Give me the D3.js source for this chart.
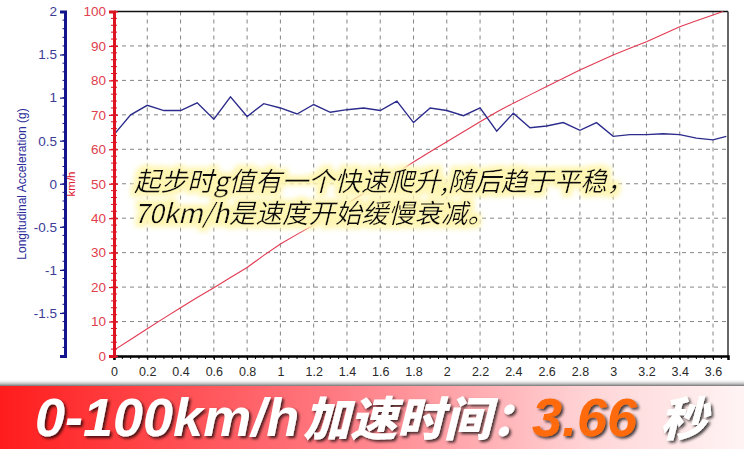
<!DOCTYPE html>
<html><head><meta charset="utf-8">
<script src="https://cdn.jsdelivr.net/npm/d3@7/dist/d3.min.js"></script>
<style>html,body{margin:0;padding:0;background:#fff;overflow:hidden}svg{display:block}</style>
</head><body>
<svg id="c" width="744" height="449"></svg>
<script>
// ---- data ----
const timeS = [0,0.1,0.2,0.3,0.4,0.5,0.6,0.7,0.8,0.9,1.0,1.1,1.2,1.3,1.4,1.5,1.6,1.7,1.8,1.9,2.0,2.1,2.2,2.3,2.4,2.5,2.6,2.7,2.8,2.9,3.0,3.1,3.2,3.3,3.4,3.5,3.6,3.68];
const accelG = [0.57,0.80,0.91,0.85,0.85,0.94,0.75,1.01,0.78,0.93,0.88,0.81,0.92,0.83,0.86,0.88,0.85,0.96,0.71,0.88,0.85,0.79,0.88,0.61,0.82,0.65,0.67,0.71,0.62,0.71,0.55,0.57,0.57,0.58,0.57,0.53,0.51,0.55];
const speedTime = [0,0.1,0.2,0.3,0.4,0.5,0.6,0.7,0.8,0.9,1.0,1.1,1.2,1.3,1.4,1.5,1.6,1.7,1.8,1.9,2.0,2.1,2.2,2.3,2.4,2.5,2.6,2.7,2.8,2.9,3.0,3.1,3.2,3.3,3.4,3.5,3.6,3.66];
const speedKmh = [1.7,4.8,7.9,11.0,14.0,17.0,19.8,22.8,25.7,29.2,32.5,35.3,38.0,41.0,44.2,47.2,50.2,53.2,56.3,59.3,62.2,65.1,68.0,70.8,73.4,75.8,78.2,80.6,83.0,85.2,87.4,89.3,91.2,93.4,95.6,97.3,99.0,100];
const xTicks = [0,0.2,0.4,0.6,0.8,1,1.2,1.4,1.6,1.8,2,2.2,2.4,2.6,2.8,3,3.2,3.4,3.6];
const speedTicks = [0,10,20,30,40,50,60,70,80,90,100];
const gTicks = [-1.5,-1,-0.5,0,0.5,1,1.5,2];
const noteLines = ["起步时g值有一个快速爬升,随后趋于平稳，","70km/h是速度开始缓慢衰减。"];
const bannerParts = ["0-100km/h","加速时间：","3.66","秒"];

const svg = d3.select("#c");
const L = 114, R = 728, T = 11.5, B = 356;
const x = d3.scaleLinear().domain([0,3.69]).range([L,R]);
const yS = d3.scaleLinear().domain([0,100]).range([B,T]);
const yG = d3.scaleLinear().domain([-2,2]).range([B,T]);

const defs = svg.append("defs");
const glow = defs.append("filter").attr("id","glow").attr("x","-5%").attr("y","-40%").attr("width","110%").attr("height","180%");
glow.append("feMorphology").attr("in","SourceAlpha").attr("operator","dilate").attr("radius",3.5).attr("result","d");
glow.append("feGaussianBlur").attr("in","d").attr("stdDeviation",2.5).attr("result","b");
glow.append("feFlood").attr("flood-color","#fff6b4").attr("result","f");
glow.append("feComposite").attr("in","f").attr("in2","b").attr("operator","in").attr("result","h");
const gm = glow.append("feMerge");
gm.append("feMergeNode").attr("in","h");
gm.append("feMergeNode").attr("in","SourceGraphic");
const sh = defs.append("filter").attr("id","shadow").attr("x","-5%").attr("y","-20%").attr("width","110%").attr("height","150%");
sh.append("feDropShadow").attr("dx",2).attr("dy",2).attr("stdDeviation",1.6).attr("flood-color","#000").attr("flood-opacity",0.75);
const grad = defs.append("linearGradient").attr("id","bg").attr("x1","0").attr("x2","1").attr("y1","0").attr("y2","0");
grad.append("stop").attr("offset","0").attr("stop-color","#ff1c1c");
grad.append("stop").attr("offset","0.45").attr("stop-color","#ff7a82");
grad.append("stop").attr("offset","0.8").attr("stop-color","#ffd6d8");
grad.append("stop").attr("offset","1").attr("stop-color","#fff4f4");
const shg = defs.append("linearGradient").attr("id","topsh").attr("x1","0").attr("x2","0").attr("y1","0").attr("y2","1");
shg.append("stop").attr("offset","0").attr("stop-color","#fff").attr("stop-opacity",0);
shg.append("stop").attr("offset","1").attr("stop-color","#333").attr("stop-opacity",0.9);

// grid
const grid = svg.append("g").attr("stroke","#858585").attr("stroke-width",1).attr("stroke-dasharray","4,4");
grid.selectAll("line.v").data(xTicks.filter(d=>d>0)).join("line")
  .attr("x1",d=>x(d)).attr("x2",d=>x(d)).attr("y1",T).attr("y2",B);
grid.selectAll("line.h").data(speedTicks.filter(d=>d>0&&d<100)).join("line")
  .attr("x1",L).attr("x2",R).attr("y1",d=>yS(d)).attr("y2",d=>yS(d));

// frame
svg.append("line").attr("x1",L).attr("x2",R).attr("y1",T).attr("y2",T).attr("stroke","#111").attr("stroke-width",1.5);
svg.append("line").attr("x1",R).attr("x2",R).attr("y1",T).attr("y2",B).attr("stroke","#333").attr("stroke-width",1.5);

// x axis
const xAx = d3.axisBottom(x).tickValues(xTicks).tickSize(4).tickFormat(d=>String(+d.toFixed(1)));
const gx = svg.append("g").attr("transform",`translate(0,${B})`).call(xAx);
gx.select(".domain").attr("stroke","#000").attr("stroke-width",2.5);
gx.selectAll(".tick line").attr("stroke","#000");
gx.selectAll(".tick text").attr("font-family","Liberation Sans, Arial, sans-serif").attr("font-size",12.5).attr("fill","#2a2a2a").attr("dy","1.05em");
const minorX = d3.range(0,3.69,0.05);
svg.append("g").selectAll("line").data(minorX).join("line")
  .attr("x1",d=>x(d)).attr("x2",d=>x(d)).attr("y1",B).attr("y2",B+3).attr("stroke","#000").attr("stroke-width",1);

// lines
svg.append("path").datum(speedTime.map((t,i)=>[t,speedKmh[i]]))
  .attr("fill","none").attr("stroke","#e23a52").attr("stroke-width",1.1)
  .attr("d",d3.line().x(d=>x(d[0])).y(d=>yS(d[1])));
svg.append("path").datum(timeS.map((t,i)=>[t,accelG[i]]))
  .attr("fill","none").attr("stroke","#2c2c8c").attr("stroke-width",1.4)
  .attr("d",d3.line().x(d=>x(d[0])).y(d=>yG(d[1])));

// speed axis (red)
const sAx = d3.axisLeft(yS).tickValues(speedTicks).tickSize(5).tickPadding(3);
const gs = svg.append("g").attr("transform",`translate(${L},0)`).call(sAx);
gs.select(".domain").attr("stroke","#dd1422").attr("stroke-width",3);
gs.selectAll(".tick line").attr("stroke","#dd1422").attr("x2",4).attr("x1",-5).attr("stroke-width",1.2);
gs.selectAll(".tick text").attr("font-family","Liberation Sans, Arial, sans-serif").attr("font-size",13.5).attr("fill","#e0404e");
svg.append("g").selectAll("line").data(d3.range(0,101,2)).join("line")
  .attr("x1",L-3).attr("x2",L+3).attr("y1",d=>yS(d)).attr("y2",d=>yS(d)).attr("stroke","#dd1422").attr("stroke-width",1);
svg.append("text").attr("transform",`translate(75,184) rotate(-90)`).attr("text-anchor","middle")
  .attr("font-family","Liberation Sans, Arial, sans-serif").attr("font-size",11.5).attr("fill","#e02030").text("km/h");

// g axis (blue)
const AX = 65;
const gAx = d3.axisLeft(yG).tickValues(gTicks).tickSize(5).tickPadding(3).tickFormat(d=>String(d));
const gg = svg.append("g").attr("transform",`translate(${AX},0)`).call(gAx);
gg.select(".domain").attr("stroke","#14148c").attr("stroke-width",3);
gg.selectAll(".tick line").attr("stroke","#14148c").attr("stroke-width",1.2);
gg.selectAll(".tick text").attr("font-family","Liberation Sans, Arial, sans-serif").attr("font-size",13.5).attr("fill","#3c3c96");
svg.append("g").selectAll("line").data(d3.range(-2,2.01,0.1)).join("line")
  .attr("x1",AX-2.5).attr("x2",AX).attr("y1",d=>yG(d)).attr("y2",d=>yG(d)).attr("stroke","#14148c").attr("stroke-width",1);
svg.append("text").attr("transform",`translate(26,184) rotate(-90)`).attr("text-anchor","middle")
  .attr("font-family","Liberation Sans, Arial, sans-serif").attr("font-size",12).attr("fill","#2c2c9a").text("Longitudinal Acceleration (g)");

// annotation (single text per line with a pale-yellow halo filter)
const note = svg.append("g").attr("transform","translate(134,0)");
noteLines.forEach((s,i)=>{
  note.append("text").attr("x",0).attr("y",191 + i*32).attr("font-family","Noto Sans CJK SC, sans-serif").attr("font-style","italic")
    .attr("font-size",26.5).attr("fill","#0a0a0a").attr("filter","url(#glow)").text(s);
});

// banner
svg.append("rect").attr("x",0).attr("y",379).attr("width",744).attr("height",8).attr("fill","url(#topsh)");
svg.append("rect").attr("x",0).attr("y",386).attr("width",744).attr("height",63).attr("fill","url(#bg)");
const bt = svg.append("g").attr("filter","url(#shadow)");
const bx = [35,303,532,660];
const bsize = [54,47,54,47];
const bfam = ["Liberation Sans, Arial, sans-serif","Noto Sans CJK SC, sans-serif","Liberation Sans, Arial, sans-serif","Noto Sans CJK SC, sans-serif"];
const bcol = ["#ffffff","#ffffff","#ff6a0a","#ffffff"];
bannerParts.forEach((s,i)=>{
  bt.append("text").attr("x",bx[i]).attr("y",436).attr("font-family",bfam[i]).attr("font-weight",900)
    .attr("font-style","italic").attr("font-size",bsize[i]).attr("fill",bcol[i]).text(s);
});
</script>
</body></html>
